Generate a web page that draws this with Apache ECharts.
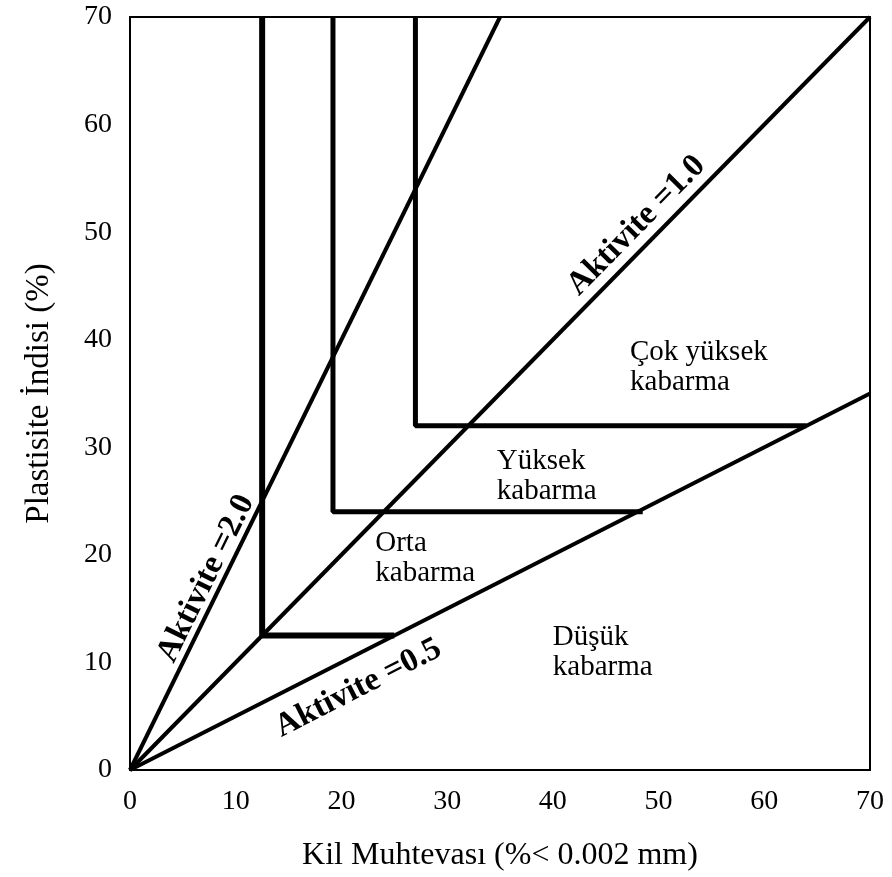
<!DOCTYPE html>
<html><head><meta charset="utf-8">
<script src="https://cdn.jsdelivr.net/npm/echarts@6/dist/echarts.min.js"></script>
<style>html,body{margin:0;padding:0;background:#fff}#c{width:892px;height:877px}</style>
</head><body><div id="c"></div>
<script>
// Activity lines (clay %, PI)
const line20 = [[0,0],[35,70]];
const line10 = [[0,0],[70,70]];
const line05 = [[0,0],[70,35]];
// Swelling class boundaries
const bound1 = [[25,12.5],[12.5,12.5],[12.5,70]];
const bound2 = [[48.5,24],[19.2,24],[19.2,70]];
const bound3 = [[64,32],[27,32],[27,70]];
const xTicks = [0,10,20,30,40,50,60,70];
const yTicks = [0,10,20,30,40,50,60,70];
// Text annotations [x, y, text, angle]
const activityLabels = [[47.9,50.6,'Aktivite =1.0',45.5],[7.2,17.8,'Aktivite =2.0',63.8],[21.6,7.6,'Aktivite =0.5',27]];
const regionLabels = [[47.3,37.4,'Çok yüksek\nkabarma'],[34.7,27.3,'Yüksek\nkabarma'],[23.2,19.7,'Orta\nkabarma'],[40.0,10.9,'Düşük\nkabarma']];

const serif = 'Liberation Serif';
function lineSeries(d,w){return {type:'line',data:d,symbol:'none',lineStyle:{color:'#000',width:w},silent:true,z:3};}
const chart = echarts.init(document.getElementById('c'));
chart.setOption({
  animation:false,
  backgroundColor:'#fff',
  grid:{left:130,right:22,top:17,bottom:107,show:true,borderColor:'#000',borderWidth:2},
  xAxis:{type:'value',min:xTicks[0],max:xTicks[xTicks.length-1],interval:10,
    name:'Kil Muhtevası (%< 0.002 mm)',nameLocation:'middle',nameGap:70,
    nameTextStyle:{fontFamily:serif,fontSize:32,color:'#000'},
    axisLine:{lineStyle:{color:'#000',width:2}},axisTick:{show:false},splitLine:{show:false},
    axisLabel:{fontFamily:serif,fontSize:28,color:'#000',margin:18}},
  yAxis:{type:'value',min:yTicks[0],max:yTicks[yTicks.length-1],interval:10,
    name:'Plastisite İndisi (%)',nameLocation:'middle',nameGap:74,
    nameTextStyle:{fontFamily:serif,fontSize:33,color:'#000'},
    axisLine:{lineStyle:{color:'#000',width:2}},axisTick:{show:false},splitLine:{show:false},
    axisLabel:{fontFamily:serif,fontSize:28,color:'#000',margin:18}},
  series:[
    lineSeries(line20,4),lineSeries(line10,4),lineSeries(line05,4),
    lineSeries(bound1,6),lineSeries(bound2,5),lineSeries(bound3,5),
    {type:'scatter',symbolSize:0,silent:true,z:5,itemStyle:{opacity:1,color:'#000'},
     data:activityLabels.map(a=>({value:[a[0],a[1]],label:{rotate:a[3],formatter:a[2]}})),
     label:{show:true,position:'inside',fontFamily:serif,fontWeight:'bold',fontSize:33,color:'#000',opacity:1,textBorderWidth:0}},
    {type:'scatter',symbolSize:0,silent:true,z:5,itemStyle:{opacity:1,color:'#000'},
     data:regionLabels.map(a=>({value:[a[0],a[1]],label:{formatter:a[2]}})),
     label:{show:true,position:'right',distance:0,align:'left',fontFamily:serif,fontSize:29,lineHeight:30,color:'#000',opacity:1,textBorderWidth:0}}
  ]
});
</script></body></html>
